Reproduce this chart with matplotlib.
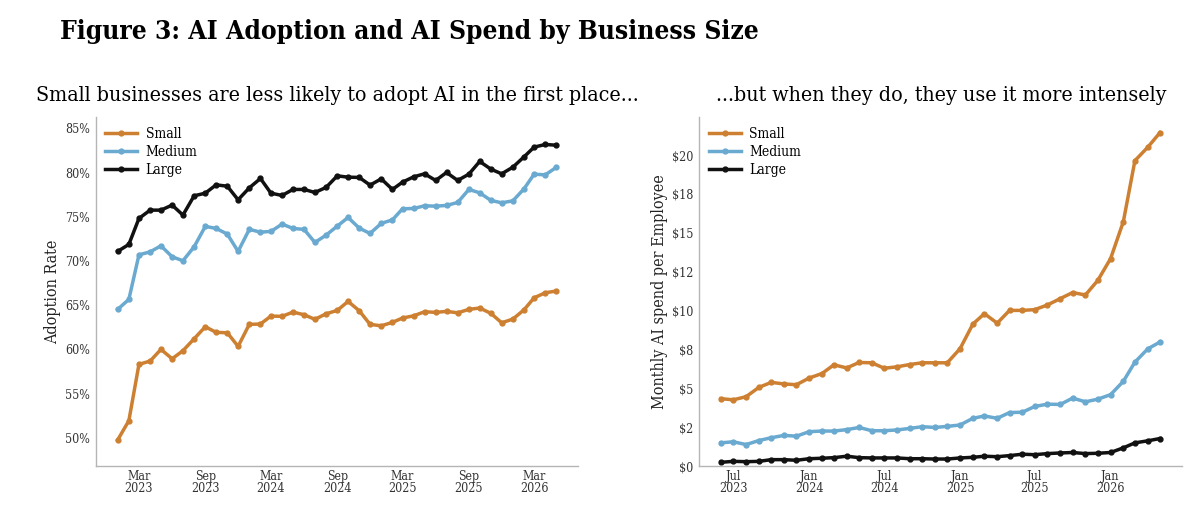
import matplotlib
matplotlib.use("Agg")
import matplotlib.pyplot as plt
import matplotlib.dates as mdates
import matplotlib.ticker as mticker
import pandas as pd

plt.rcParams['font.family'] = ['DejaVu Serif']
plt.rcParams['font.stretch'] = 'condensed'

# ---------------- data ----------------
adopt_dates = pd.date_range("2023-01-01", "2026-05-01", freq="MS")
adopt_small = [49.75, 51.93, 58.31, 58.68, 60.0, 58.94, 59.85, 61.2, 62.56, 61.93,
               61.88, 60.34, 62.83, 62.87, 63.77, 63.74, 64.22, 63.92, 63.4, 64.03,
               64.41, 65.43, 64.37, 62.83, 62.67, 63.06, 63.55, 63.8, 64.26, 64.19,
               64.3, 64.14, 64.53, 64.68, 64.08, 63.01, 63.43, 64.48, 65.84, 66.41, 66.6]
adopt_medium = [64.53, 65.66, 70.7, 71.04, 71.72, 70.48, 70.03, 71.61, 73.92, 73.69,
                73.05, 71.09, 73.58, 73.27, 73.35, 74.18, 73.69, 73.58, 72.1, 72.93,
                73.95, 74.93, 73.72, 73.12, 74.26, 74.66, 75.91, 75.95, 76.25, 76.21,
                76.29, 76.63, 78.1, 77.72, 76.86, 76.59, 76.81, 78.17, 79.83, 79.75, 80.59]
adopt_large = [71.09, 71.88, 74.82, 75.76, 75.76, 76.33, 75.2, 77.38, 77.68, 78.62,
               78.47, 76.93, 78.28, 79.34, 77.68, 77.42, 78.1, 78.1, 77.76, 78.33,
               79.64, 79.49, 79.46, 78.59, 79.3, 78.1, 78.93, 79.53, 79.87, 79.12,
               80.02, 79.12, 79.83, 81.27, 80.4, 79.87, 80.62, 81.79, 82.89, 83.19, 83.11]

spend_dates = pd.date_range("2023-06-01", "2026-05-01", freq="MS")
spend_small = [4.33, 4.26, 4.46, 5.06, 5.38, 5.28, 5.23, 5.66, 5.95, 6.51,
               6.31, 6.66, 6.64, 6.29, 6.38, 6.53, 6.64, 6.64, 6.64, 7.55,
               9.13, 9.8, 9.19, 10.01, 10.01, 10.06, 10.36, 10.77, 11.16, 11.0,
               11.94, 13.34, 15.72, 19.64, 20.5, 21.45]
spend_medium = [1.49, 1.56, 1.38, 1.64, 1.82, 1.97, 1.92, 2.21, 2.25, 2.25,
                2.34, 2.48, 2.27, 2.27, 2.32, 2.42, 2.53, 2.48, 2.55, 2.64,
                3.07, 3.22, 3.07, 3.44, 3.46, 3.83, 3.98, 3.96, 4.37, 4.13,
                4.3, 4.59, 5.45, 6.68, 7.53, 7.98]
spend_large = [0.24, 0.3, 0.28, 0.3, 0.41, 0.41, 0.37, 0.47, 0.5, 0.54,
               0.63, 0.54, 0.52, 0.52, 0.52, 0.47, 0.47, 0.45, 0.45, 0.52,
               0.56, 0.63, 0.6, 0.67, 0.76, 0.73, 0.8, 0.84, 0.87, 0.8,
               0.82, 0.87, 1.17, 1.49, 1.62, 1.77]

series_names = ["Small", "Medium", "Large"]
colors = {"Small": "#CD8031", "Medium": "#6AA9D0", "Large": "#111111"}

title = "Figure 3: AI Adoption and AI Spend by Business Size"
left_title = "Small businesses are less likely to adopt AI in the first place..."
right_title = "...but when they do, they use it more intensely"

# ---------------- figure ----------------
fig = plt.figure(figsize=(12, 5.17), dpi=100)
ax1 = fig.add_axes([0.0798, 0.0986, 0.4019, 0.6751])
ax2 = fig.add_axes([0.5825, 0.0986, 0.4025, 0.6751])

fig.text(0.05, 0.94, title, fontsize=18.9, fontweight="bold", ha="left", va="center")
fig.text(0.03, 0.815, left_title, fontsize=15.3, ha="left", va="center")
fig.text(0.972, 0.815, right_title, fontsize=15.3, ha="right", va="center")

def style(ax):
    for s in ["top", "right"]:
        ax.spines[s].set_visible(False)
    for s in ["left", "bottom"]:
        ax.spines[s].set_color("#b5b5b5")
        ax.spines[s].set_linewidth(1.0)
    ax.tick_params(length=0, labelsize=8.9, labelcolor="#333333", pad=4)
    ax.tick_params(axis="x", pad=3)
    ax.grid(False)

for name, vals in zip(series_names, [adopt_small, adopt_medium, adopt_large]):
    ax1.plot(adopt_dates, vals, color=colors[name], lw=2.5, marker="o", ms=3.5, label=name)
for name, vals in zip(series_names, [spend_small, spend_medium, spend_large]):
    ax2.plot(spend_dates, vals, color=colors[name], lw=2.5, marker="o", ms=3.5, label=name)

style(ax1)
style(ax2)

ax1.set_ylim(46.8, 86.3)
ax1.yaxis.set_major_locator(mticker.MultipleLocator(5))
ax1.yaxis.set_major_formatter(mticker.FuncFormatter(lambda v, p: f"{v:.0f}%"))
ax1.xaxis.set_major_locator(mdates.MonthLocator(bymonth=[3, 9]))
ax1.xaxis.set_major_formatter(mdates.DateFormatter("%b\n%Y"))
ax1.set_ylabel("Adoption Rate", fontsize=11.5, color="#222222", labelpad=3)

ax2.set_ylim(0, 22.45)
ax2.yaxis.set_major_locator(mticker.MultipleLocator(2.5))
ax2.yaxis.set_major_formatter(mticker.FuncFormatter(lambda v, p: f"${v:.0f}"))
ax2.xaxis.set_major_locator(mdates.MonthLocator(bymonth=[1, 7]))
ax2.xaxis.set_major_formatter(mdates.DateFormatter("%b\n%Y"))
ax2.set_ylabel("Monthly AI spend per Employee", fontsize=11.5, color="#222222", labelpad=3)

for ax in (ax1, ax2):
    for lab in ax.get_xticklabels():
        lab.set_linespacing(0.85)
    ax.legend(loc="upper left", frameon=False, fontsize=10, handlelength=2.3,
              borderaxespad=0.3, labelspacing=0.3, handletextpad=0.6)

fig.savefig("out.png", dpi=100, facecolor="white")
